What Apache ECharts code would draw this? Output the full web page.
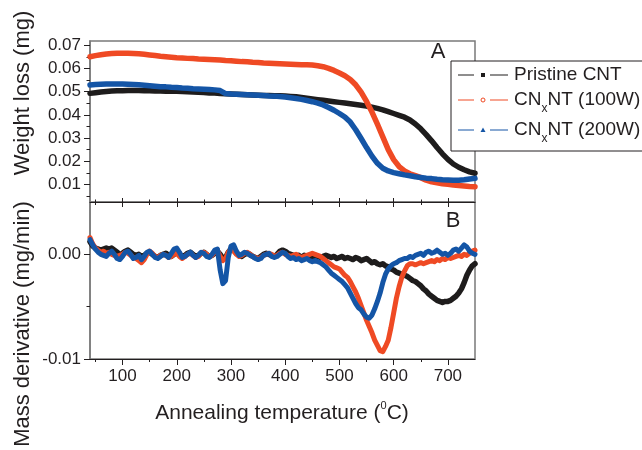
<!DOCTYPE html>
<html>
<head>
<meta charset="utf-8">
<script src="https://cdn.jsdelivr.net/npm/echarts@6/dist/echarts.min.js"></script>
<style>
  html, body { margin: 0; padding: 0; background: #fff; }
  #chart { width: 642px; height: 450px; }
</style>
</head>
<body>
<div id="chart"></div>
<script>
// Temperature grid for the weight-loss curves (°C)
const tempWeight = [
  40, 50, 60, 70, 80, 90, 100, 110, 120, 130,
  140, 150, 160, 170, 180, 190, 200, 210, 220, 230,
  240, 250, 260, 270, 280, 290, 300, 310, 320, 330,
  340, 350, 360, 370, 380, 390, 400, 410, 420, 430,
  440, 450, 460, 470, 480, 490, 500, 510, 520, 530,
  540, 550, 560, 570, 580, 590, 600, 610, 620, 630,
  640, 650, 660, 670, 680, 690, 700, 710, 720, 730,
  740, 750
];

// Weight loss (mg)
const weightPristine = [
  0.0493, 0.0496, 0.0499, 0.0501, 0.0503, 0.0504, 0.0504, 0.0505, 0.0505, 0.0505,
  0.0504, 0.0504, 0.0503, 0.0503, 0.0502, 0.0502, 0.0502, 0.0501, 0.0500, 0.0499,
  0.0498, 0.0497, 0.0495, 0.0494, 0.0492, 0.0491, 0.0490, 0.0489, 0.0488, 0.0487,
  0.0486, 0.0485, 0.0484, 0.0484, 0.0483, 0.0483, 0.0482, 0.0480, 0.0478, 0.0475,
  0.0472, 0.0469, 0.0466, 0.0463, 0.0460, 0.0457, 0.0454, 0.0451, 0.0448, 0.0445,
  0.0442, 0.0438, 0.0433, 0.0428, 0.0422, 0.0414, 0.0406, 0.0398, 0.0390, 0.0378,
  0.0361, 0.0340, 0.0315, 0.0288, 0.0259, 0.0232, 0.0208, 0.0188, 0.0174, 0.0163,
  0.0154, 0.0148
];
const weight100W = [
  0.0651, 0.0656, 0.0660, 0.0663, 0.0665, 0.0666, 0.0666, 0.0666, 0.0665, 0.0664,
  0.0662, 0.0659, 0.0656, 0.0653, 0.0651, 0.0649, 0.0647, 0.0646, 0.0644, 0.0643,
  0.0641, 0.0640, 0.0639, 0.0638, 0.0637, 0.0635, 0.0634, 0.0632, 0.0630, 0.0629,
  0.0627, 0.0626, 0.0624, 0.0623, 0.0622, 0.0621, 0.0620, 0.0619, 0.0618, 0.0617,
  0.0616, 0.0615, 0.0612, 0.0608, 0.0601, 0.0592, 0.0581, 0.0569, 0.0553, 0.0530,
  0.0498, 0.0458, 0.0412, 0.0360, 0.0305, 0.0250, 0.0207, 0.0177, 0.0158, 0.0146,
  0.0138, 0.0129, 0.0118, 0.0111, 0.0107, 0.0103, 0.0100, 0.0097, 0.0095, 0.0093,
  0.0091, 0.0090
];
const weight200W = [
  0.0529, 0.0531, 0.0532, 0.0533, 0.0533, 0.0533, 0.0533, 0.0532, 0.0531, 0.0530,
  0.0528, 0.0526, 0.0524, 0.0522, 0.0521, 0.0519, 0.0518, 0.0516, 0.0515, 0.0513,
  0.0512, 0.0511, 0.0510, 0.0508, 0.0505, 0.0492, 0.0490, 0.0489, 0.0488, 0.0487,
  0.0486, 0.0485, 0.0484, 0.0482, 0.0481, 0.0479, 0.0477, 0.0474, 0.0471, 0.0467,
  0.0462, 0.0457, 0.0451, 0.0443, 0.0432, 0.0420, 0.0406, 0.0391, 0.0369, 0.0336,
  0.0298, 0.0259, 0.0222, 0.0191, 0.0170, 0.0158, 0.0151, 0.0146, 0.0141, 0.0137,
  0.0133, 0.0130, 0.0127, 0.0125, 0.0122, 0.0120, 0.0119, 0.0118, 0.0118, 0.0120,
  0.0123, 0.0126
];

// Temperature grid for the derivative curves (°C)
const tempDeriv = [
  40, 45, 50, 55, 60, 65, 70, 75, 80, 85,
  90, 95, 100, 105, 110, 115, 120, 125, 130, 135,
  140, 145, 150, 155, 160, 165, 170, 175, 180, 185,
  190, 195, 200, 205, 210, 215, 220, 225, 230, 235,
  240, 245, 250, 255, 260, 265, 270, 275, 280, 285,
  290, 295, 300, 305, 310, 315, 320, 325, 330, 335,
  340, 345, 350, 355, 360, 365, 370, 375, 380, 385,
  390, 395, 400, 405, 410, 415, 420, 425, 430, 435,
  440, 445, 450, 455, 460, 465, 470, 475, 480, 485,
  490, 495, 500, 505, 510, 515, 520, 525, 530, 535,
  540, 545, 550, 555, 560, 565, 570, 575, 580, 585,
  590, 595, 600, 605, 610, 615, 620, 625, 630, 635,
  640, 645, 650, 655, 660, 665, 670, 675, 680, 685,
  690, 695, 700, 705, 710, 715, 720, 725, 730, 735,
  740, 745, 750
];

// Mass derivative (mg/min)
const derivPristine = [
  0.0012, 0.0008, 0.0006, 0.0005, 0.0004, 0.0005, 0.0006, 0.0005, 0.0006, 0.0004,
  0.0002, 0, 0.0001, 0.0003, 0.0004, 0.0002, 0, -0.0001, 0, -0.0002,
  -0.0001, 0.0001, 0.0002, 0, -0.0002, -0.0003, -0.0001, 0, 0.0001, -0.0001,
  -0.0002, 0, 0.0002, 0, -0.0002, -0.0001, 0.0001, 0.0002, 0, -0.0002,
  -0.0001, 0.0001, 0.0002, 0, -0.0002, -0.0001, 0.0001, 0.0003, 0, -0.0004,
  -0.0003, 0.0002, 0.0005, 0.0004, 0.0001, -0.0001, -0.0002, 0, 0.0001, 0,
  -0.0002, -0.0003, -0.0004, -0.0002, 0, 0.0001, 0, -0.0001, -0.0002, 0,
  0.0003, 0.0004, 0.0003, 0.0001, 0, -0.0001, -0.0002, -0.0001, -0.0003, -0.0001,
  -0.0002, -0.0004, -0.0003, -0.0001, -0.0002, -0.0003, -0.0002, -0.0001, -0.0002, -0.0003,
  -0.0002, -0.0004, -0.0003, -0.0002, -0.0004, -0.0003, -0.0004, -0.0005, -0.0003, -0.0004,
  -0.0006, -0.0005, -0.0004, -0.0006, -0.0008, -0.0007, -0.0009, -0.0010, -0.0009, -0.0011,
  -0.0012, -0.0014, -0.0015, -0.0017, -0.0018, -0.0019, -0.0020, -0.0021, -0.0023, -0.0025,
  -0.0026, -0.0028, -0.0030, -0.0033, -0.0035, -0.0038, -0.0040, -0.0042, -0.0044, -0.0045,
  -0.0046, -0.0045, -0.0045, -0.0044, -0.0042, -0.0040, -0.0037, -0.0033, -0.0027, -0.0020,
  -0.0015, -0.0011, -0.0009
];
const deriv100W = [
  0.0016, 0.0010, 0.0006, 0.0004, 0.0002, 0.0003, 0.0001, 0.0002, 0, -0.0001,
  -0.0002, -0.0001, 0, 0.0002, 0.0001, -0.0001, -0.0003, -0.0004, -0.0006, -0.0008,
  -0.0005, 0, 0.0003, 0.0001, -0.0002, -0.0003, -0.0001, 0, -0.0001, -0.0003,
  -0.0002, 0, 0.0001, -0.0002, -0.0004, -0.0002, 0, 0.0001, -0.0001, -0.0003,
  -0.0002, 0.0001, 0.0002, 0, -0.0002, -0.0001, 0.0002, 0.0004, -0.0002, -0.0006,
  -0.0004, 0.0002, 0.0005, 0.0003, 0, -0.0002, -0.0001, 0.0001, 0.0002, 0,
  -0.0002, -0.0003, -0.0004, -0.0003, -0.0001, 0, 0.0001, 0, -0.0002, -0.0001,
  0.0001, 0.0002, 0, -0.0001, -0.0002, -0.0001, 0, -0.0002, -0.0003, -0.0002,
  -0.0001, 0, 0.0001, 0, -0.0001, -0.0002, -0.0004, -0.0006, -0.0008, -0.0010,
  -0.0012, -0.0013, -0.0014, -0.0017, -0.0020, -0.0022, -0.0026, -0.0031, -0.0036, -0.0042,
  -0.0049, -0.0056, -0.0063, -0.0069, -0.0075, -0.0082, -0.0087, -0.0092, -0.0093, -0.0088,
  -0.0082, -0.0070, -0.0056, -0.0042, -0.0031, -0.0022, -0.0016, -0.0011, -0.0009, -0.0009,
  -0.0010, -0.0009, -0.0008, -0.0009, -0.0008, -0.0007, -0.0006, -0.0007, -0.0005, -0.0006,
  -0.0004, -0.0005, -0.0003, -0.0004, -0.0003, -0.0002, -0.0001, -0.0002, 0, -0.0001,
  0.0001, 0.0003, 0.0004
];
const deriv200W = [
  0.0014, 0.0009, 0.0005, 0.0002, 0, -0.0001, -0.0002, 0.0001, 0.0003, 0,
  -0.0004, -0.0005, -0.0002, 0.0002, 0.0003, 0, -0.0004, -0.0003, -0.0001, -0.0005,
  -0.0002, 0.0002, 0.0003, 0, -0.0003, -0.0004, -0.0002, 0, -0.0001, -0.0003,
  0.0001, 0.0005, 0.0006, 0.0002, -0.0003, -0.0002, 0, 0.0002, -0.0001, -0.0003,
  -0.0001, 0.0002, 0.0001, -0.0002, -0.0003, 0, 0.0004, 0.0005, -0.0015, -0.0028,
  -0.0025, -0.0003, 0.0008, 0.0009, 0.0003, -0.0001, 0, 0.0002, 0.0001, -0.0001,
  -0.0002, -0.0004, -0.0005, -0.0004, -0.0001, 0, 0.0001, -0.0002, -0.0003, -0.0002,
  0, 0.0002, 0.0001, -0.0002, -0.0004, -0.0003, -0.0005, -0.0004, -0.0006, -0.0005,
  -0.0004, -0.0006, -0.0007, -0.0006, -0.0007, -0.0008, -0.0010, -0.0012, -0.0015, -0.0018,
  -0.0020, -0.0022, -0.0024, -0.0026, -0.0029, -0.0032, -0.0037, -0.0042, -0.0047, -0.0051,
  -0.0053, -0.0057, -0.0060, -0.0061, -0.0058, -0.0052, -0.0045, -0.0037, -0.0027, -0.0019,
  -0.0014, -0.0011, -0.0009, -0.0008, -0.0006, -0.0005, -0.0004, -0.0004, -0.0002, -0.0003,
  -0.0001, 0, 0.0001, -0.0001, 0.0002, 0.0003, 0.0001, 0.0002, 0.0004, 0.0002,
  0, 0.0001, -0.0001, 0.0001, 0.0004, 0.0005, 0.0003, 0.0006, 0.0009, 0.0007,
  0.0003, 0.0001, 0
];

// Tick positions and labels
const tempMajorTicks = [100, 200, 300, 400, 500, 600, 700];
const tempMinorTicks = [50, 150, 250, 350, 450, 550, 650];
const weightMajorTicks = [0.01, 0.02, 0.03, 0.04, 0.05, 0.06, 0.07];
const weightMinorTicks = [0.005, 0.015, 0.025, 0.035, 0.045, 0.055, 0.065];
const derivMajorTicks = [-0.01, 0];
const derivMinorTicks = [-0.005];

const seriesNames = ['Pristine CNT', 'CNxNT (100W)', 'CNxNT (200W)'];
const colors = ['#1e1c1c', '#ef4a24', '#1455a6'];

const FONT = "'Liberation Sans', Arial, sans-serif";
const INK = '#231f20';

function pairs(xs, ys) {
  return xs.map((x, i) => [x, ys[i]]);
}

function xAxisDef(grid, position, ticks, len, inside, showLine, labels) {
  return {
    gridIndex: grid, type: 'value', min: 40, max: 750, position: position,
    axisLine: { show: showLine, onZero: false, lineStyle: { color: INK, width: 1 } },
    axisTick: { show: true, inside: inside, length: len, customValues: ticks, lineStyle: { color: INK, width: 1 } },
    axisLabel: labels ? {
      show: true, customValues: labels, margin: 9, color: INK, fontSize: 17, fontFamily: FONT
    } : { show: false },
    splitLine: { show: false }
  };
}

function yAxisDef(grid, min, max, ticks, len, showLine, labels) {
  return {
    gridIndex: grid, type: 'value', min: min, max: max, position: 'left',
    axisLine: { show: showLine, onZero: false, lineStyle: { color: '#7a7a7a', width: 1.5 } },
    axisTick: { show: true, inside: false, length: len, customValues: ticks, lineStyle: { color: INK, width: 1 } },
    axisLabel: labels ? {
      show: true, customValues: labels, margin: 9, color: INK, fontSize: 17, fontFamily: FONT,
      formatter: v => v.toFixed(2)
    } : { show: false },
    splitLine: { show: false }
  };
}

function lineSeries(name, xAxisIndex, yAxisIndex, data, color, width) {
  return {
    name: name, type: 'line', xAxisIndex: xAxisIndex, yAxisIndex: yAxisIndex,
    data: data, symbol: 'none', showSymbol: false,
    lineStyle: { color: color, width: width, cap: 'round', join: 'round' }
  };
}

// Legend drawn as plain graphic pieces
function legendRow(y, color, marker) {
  const els = [
    { type: 'line', shape: { x1: 458, y1: y, x2: 474, y2: y }, style: { stroke: color, lineWidth: 1 } },
    { type: 'line', shape: { x1: 490, y1: y, x2: 508, y2: y }, style: { stroke: color, lineWidth: 1 } }
  ];
  if (marker === 'square') {
    els.push({ type: 'rect', shape: { x: 481, y: y - 2, width: 4, height: 4 }, style: { fill: color } });
  } else if (marker === 'circle') {
    els.push({ type: 'circle', shape: { cx: 483, cy: y, r: 2 }, style: { fill: '#fff', stroke: color, lineWidth: 1 } });
  } else {
    els.push({ type: 'polygon', shape: { points: [[483, y - 2.5], [485.5, y + 2], [480.5, y + 2]] }, style: { fill: color } });
  }
  return els;
}

const legendText = (y, rich) => ({
  type: 'text', x: 514, y: y,
  style: {
    text: rich, fill: INK, font: '19px ' + FONT,
    verticalAlign: 'middle', textVerticalAlign: 'middle', align: 'left', textAlign: 'left',
    rich: {
      n: { fontSize: 19, fontFamily: FONT, lineHeight: 30, verticalAlign: 'middle', fill: INK },
      s: { fontSize: 12, fontFamily: FONT, lineHeight: 30, verticalAlign: 'bottom', fill: INK }
    }
  }
});

const chart = echarts.init(document.getElementById('chart'), null, { renderer: 'canvas' });

chart.setOption({
  animation: false,
  backgroundColor: '#fff',
  grid: [
    { left: 90, right: 167, top: 41, height: 161, show: true, borderColor: '#7a7a7a', borderWidth: 1.5, backgroundColor: 'transparent' },
    { left: 90, right: 167, top: 202, height: 157, show: true, borderColor: '#7a7a7a', borderWidth: 1.5, backgroundColor: 'transparent' }
  ],
  xAxis: [
    xAxisDef(0, 'bottom', tempMajorTicks, 4, true, true, null),
    xAxisDef(0, 'bottom', tempMinorTicks, 2.5, true, false, null),
    xAxisDef(1, 'bottom', tempMajorTicks, 6, false, true, tempMajorTicks),
    xAxisDef(1, 'bottom', tempMinorTicks, 3, false, false, null),
    xAxisDef(1, 'top', tempMajorTicks, 5, true, false, null),
    xAxisDef(1, 'top', tempMinorTicks, 3, true, false, null)
  ],
  yAxis: [
    yAxisDef(0, 0.0024, 0.0719, weightMajorTicks, 6, true, weightMajorTicks),
    yAxisDef(0, 0.0024, 0.0719, weightMinorTicks, 3.5, false, null),
    yAxisDef(1, -0.01, 0.005, derivMajorTicks, 6, true, derivMajorTicks),
    yAxisDef(1, -0.01, 0.005, derivMinorTicks, 3.5, false, null)
  ],
  series: [
    lineSeries(seriesNames[0], 0, 0, pairs(tempWeight, weightPristine), colors[0], 5.5),
    lineSeries(seriesNames[1], 0, 0, pairs(tempWeight, weight100W), colors[1], 5.5),
    lineSeries(seriesNames[2], 0, 0, pairs(tempWeight, weight200W), colors[2], 5.5),
    lineSeries(seriesNames[0], 2, 2, pairs(tempDeriv, derivPristine), colors[0], 5.5),
    lineSeries(seriesNames[1], 2, 2, pairs(tempDeriv, deriv100W), colors[1], 5),
    lineSeries(seriesNames[2], 2, 2, pairs(tempDeriv, deriv200W), colors[2], 5)
  ],
  graphic: [
    { type: 'rect', z: 100, shape: { x: 451, y: 61, width: 200, height: 90 }, style: { fill: '#fff', stroke: INK, lineWidth: 1 } },
    ...legendRow(75, colors[0], 'square').map(e => Object.assign(e, { z: 101 })),
    ...legendRow(100, colors[1], 'circle').map(e => Object.assign(e, { z: 101 })),
    ...legendRow(130, colors[2], 'triangle').map(e => Object.assign(e, { z: 101 })),
    Object.assign(legendText(75, '{n|Pristine CNT}'), { z: 101 }),
    Object.assign(legendText(100, '{n|CN}{s|x}{n|NT (100W)}'), { z: 101 }),
    Object.assign(legendText(130, '{n|CN}{s|x}{n|NT (200W)}'), { z: 101 }),
    // panel tags
    { type: 'text', x: 438, y: 52, z: 101, style: { text: 'A', fill: INK, font: '22px ' + FONT, align: 'center', textAlign: 'center', verticalAlign: 'middle', textVerticalAlign: 'middle' } },
    { type: 'text', x: 453, y: 221, z: 101, style: { text: 'B', fill: INK, font: '22px ' + FONT, align: 'center', textAlign: 'center', verticalAlign: 'middle', textVerticalAlign: 'middle' } },
    // axis titles
    { type: 'text', x: 23, y: 93, rotation: Math.PI / 2, z: 101, style: { text: 'Weight loss (mg)', fill: INK, font: '22px ' + FONT, align: 'center', textAlign: 'center', verticalAlign: 'middle', textVerticalAlign: 'middle' } },
    { type: 'text', x: 23, y: 324, rotation: Math.PI / 2, z: 101, style: { text: 'Mass derivative (mg/min)', fill: INK, font: '22px ' + FONT, align: 'center', textAlign: 'center', verticalAlign: 'middle', textVerticalAlign: 'middle' } },
    {
      type: 'text', x: 282, y: 413, z: 101,
      style: {
        text: '{a|Annealing temperature (}{u|0}{a|C)}', fill: INK, font: '21px ' + FONT,
        align: 'center', textAlign: 'center', verticalAlign: 'middle', textVerticalAlign: 'middle',
        rich: {
          a: { fontSize: 21, fontFamily: FONT, lineHeight: 26, verticalAlign: 'middle', fill: INK },
          u: { fontSize: 11, fontFamily: FONT, lineHeight: 26, verticalAlign: 'top', fill: INK }
        }
      }
    }
  ]
});
</script>
</body>
</html>
